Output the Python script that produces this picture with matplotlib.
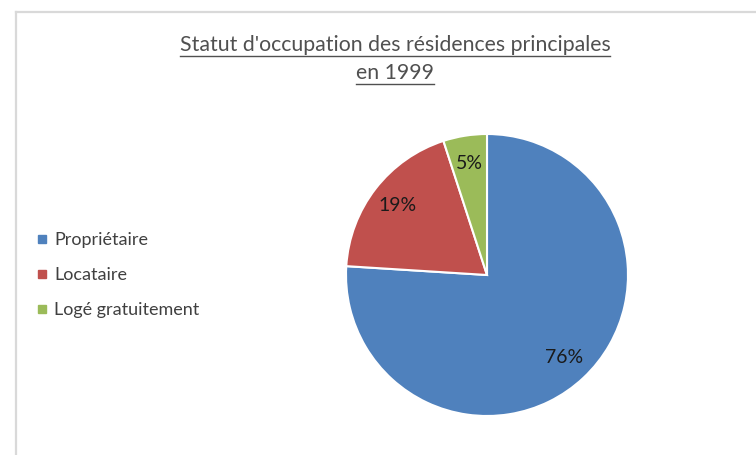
import matplotlib
matplotlib.use("Agg")
import matplotlib.pyplot as plt
from matplotlib.lines import Line2D

# Statut d'occupation, 1999
categories = ["Propriétaire", "Locataire", "Logé gratuitement"]
shares = [76, 19, 5]
colors = ["#4F81BD", "#C0504D", "#9BBB59"]

title_lines = ["Statut d'occupation des résidences principales", "en 1999"]

plt.rcParams["font.family"] = ["Lato", "DejaVu Sans"]

W, H = 756, 455
fig = plt.figure(figsize=(W / 100, H / 100), dpi=100)

# chart area frame (top and left edges)
frame_col = "#d9d9d9"
fig.add_artist(Line2D([15.5 / W, 1], [1 - 11.5 / H] * 2, color=frame_col, lw=1.6))
fig.add_artist(Line2D([15.5 / W] * 2, [0, 1 - 11.5 / H], color=frame_col, lw=1.6))

# pie
cx, cy, r = 487, 275, 141
ax = fig.add_axes([(cx - r) / W, (H - cy - r) / H, 2 * r / W, 2 * r / H])
wedges, texts, autotexts = ax.pie(
    shares, colors=colors, startangle=90, counterclock=False,
    autopct="%1.0f%%", pctdistance=0.8,
    wedgeprops=dict(edgecolor="white", linewidth=1.5),
    textprops=dict(fontsize=14, color="#1a1a1a"))
ax.set_aspect("equal")
ax.set_xlim(-1, 1)
ax.set_ylim(-1, 1)
ax.axis("off")

# title, underlined
title_texts = []
for i, line in enumerate(title_lines):
    t = fig.text(395 / W, 1 - (45 + 28 * i) / H, line, ha="center", va="center",
                 fontsize=15.3, color="#505050")
    title_texts.append(t)

fig.canvas.draw()
renderer = fig.canvas.get_renderer()
for t in title_texts:
    bb = t.get_window_extent(renderer)
    y = (bb.y0 - 0.5) / H
    fig.add_artist(Line2D([bb.x0 / W, bb.x1 / W], [y, y], color="#505050", lw=1.0))

# legend
handles = [Line2D([], [], marker="s", linestyle="none", markersize=6,
                  markerfacecolor=c, markeredgecolor=c) for c in colors]
fig.legend(handles, categories, loc="center left",
           bbox_to_anchor=(28 / W, 1 - 275 / H), frameon=False,
           fontsize=13, labelcolor="#404040", handlelength=0.5,
           handletextpad=0.45, labelspacing=1.05, borderpad=0)

fig.savefig("out.png", dpi=100, facecolor="white")
